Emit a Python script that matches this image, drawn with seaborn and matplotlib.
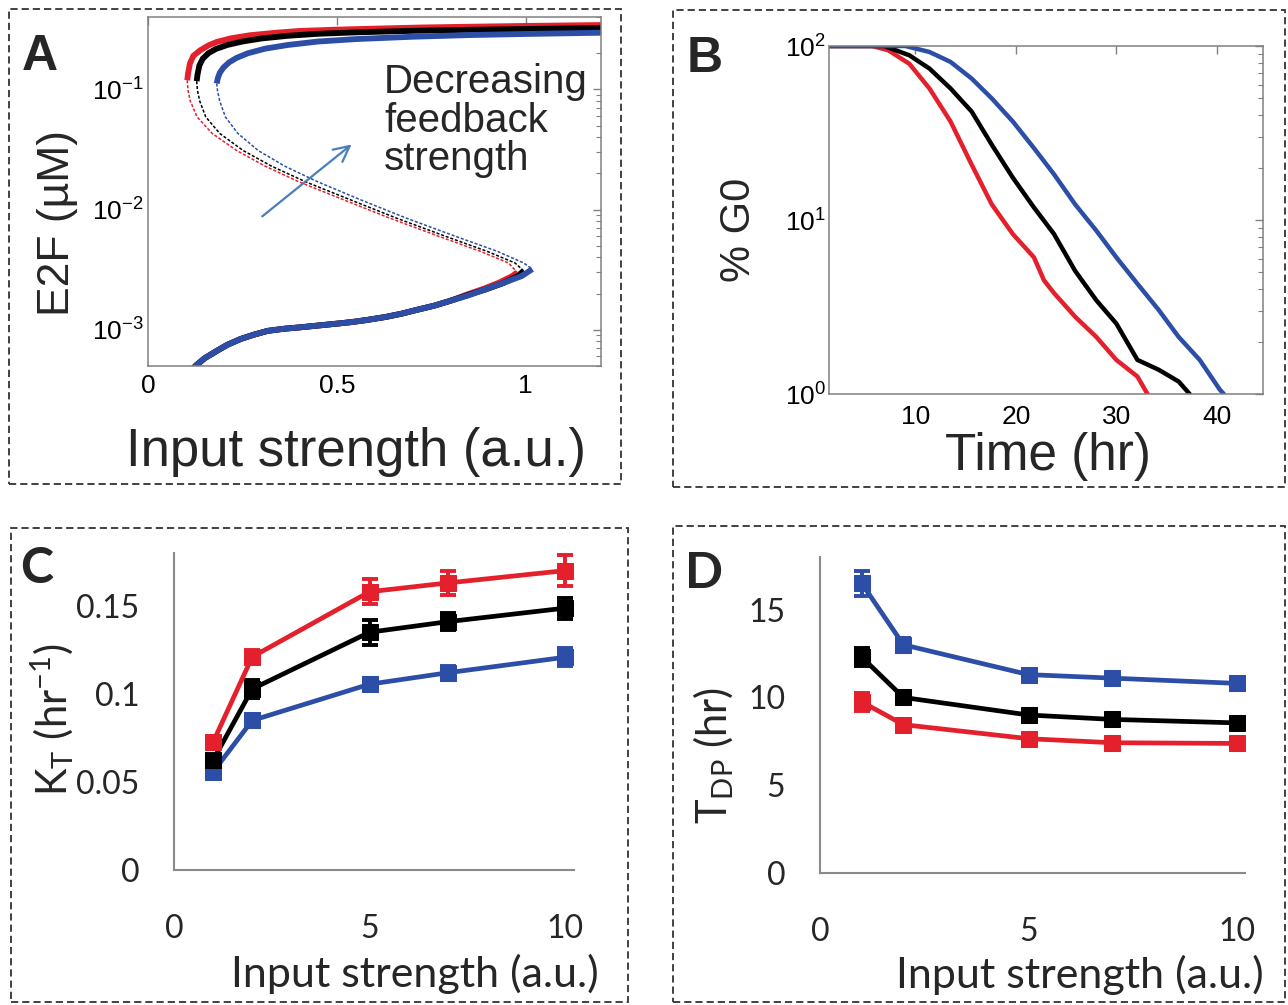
import numpy as np
import matplotlib
matplotlib.use("Agg")
import matplotlib.pyplot as plt
import seaborn as sns
from matplotlib.patches import Rectangle
from matplotlib.ticker import LogLocator, NullFormatter, FixedLocator, FixedFormatter

# -----------------------------
# Colours
# -----------------------------
RED = "#e3202b"
BLACK = "#000000"
BLUE = "#2d4ea6"
GRAY = "#808080"

# -----------------------------
# Panel A: bifurcation curves (input strength vs E2F)
# -----------------------------
a_red_up_x = [0.104, 0.106, 0.111, 0.12, 0.138, 0.16, 0.182, 0.22, 0.27, 0.34, 0.40, 0.5, 0.6, 0.72, 0.85, 1.0, 1.2]
a_red_up_y = [0.119, 0.135, 0.164, 0.19, 0.211, 0.232, 0.248, 0.266, 0.282, 0.296, 0.306, 0.314, 0.320, 0.327, 0.332, 0.337, 0.343]
a_blk_up_x = [0.129, 0.131, 0.136, 0.145, 0.16, 0.18, 0.21, 0.25, 0.3, 0.37, 0.45, 0.55, 0.7, 0.85, 1.0, 1.2]
a_blk_up_y = [0.117, 0.132, 0.158, 0.18, 0.2, 0.217, 0.234, 0.25, 0.265, 0.279, 0.29, 0.298, 0.307, 0.313, 0.318, 0.324]
a_blu_up_x = [0.182, 0.185, 0.19, 0.2, 0.215, 0.235, 0.265, 0.31, 0.37, 0.45, 0.55, 0.7, 0.85, 1.0, 1.2]
a_blu_up_y = [0.112, 0.124, 0.137, 0.152, 0.168, 0.183, 0.2, 0.218, 0.234, 0.25, 0.262, 0.274, 0.283, 0.289, 0.296]

a_mid_y = [0.098, 0.08, 0.059, 0.043, 0.031, 0.023, 0.017, 0.012, 0.0085, 0.006, 0.0045, 0.0036]
a_red_mid_x = [0.104, 0.106, 0.112, 0.13, 0.17, 0.235, 0.31, 0.40, 0.52, 0.64, 0.77, 0.88, 0.955, 0.978]
a_red_mid_y = [0.119] + a_mid_y + [0.0030]
a_blk_mid_x = [0.129, 0.131, 0.137, 0.153, 0.19, 0.252, 0.327, 0.418, 0.538, 0.658, 0.788, 0.898, 0.972, 0.995]
a_blk_mid_y = [0.117] + a_mid_y + [0.0031]
a_blu_mid_x = [0.182, 0.184, 0.19, 0.205, 0.238, 0.292, 0.362, 0.45, 0.565, 0.684, 0.814, 0.925, 0.995, 1.018]
a_blu_mid_y = [0.112] + a_mid_y + [0.0032]

a_low_x = [0.115, 0.127, 0.15, 0.184, 0.21, 0.246, 0.28, 0.317, 0.36, 0.405, 0.45, 0.494, 0.54,
           0.582, 0.63, 0.671, 0.71, 0.759, 0.80, 0.848]
a_low_y = [4.6e-4, 5.05e-4, 5.8e-4, 6.73e-4, 7.5e-4, 8.4e-4, 9.1e-4, 9.8e-4, 1.02e-3, 1.05e-3, 1.085e-3,
           1.12e-3, 1.16e-3, 1.21e-3, 1.28e-3, 1.36e-3, 1.46e-3, 1.59e-3, 1.74e-3, 1.93e-3]
a_red_low_x = a_low_x + [0.89, 0.93, 0.965, 0.978]
a_red_low_y = a_low_y[:-1] + [1.98e-3, 2.2e-3, 2.47e-3, 2.8e-3, 3.0e-3]
a_blk_low_x = a_low_x + [0.895, 0.94, 0.98, 0.995]
a_blk_low_y = a_low_y[:-1] + [1.95e-3, 2.17e-3, 2.44e-3, 2.8e-3, 3.1e-3]
a_blu_low_x = a_low_x + [0.89, 0.936, 0.99, 1.018]
a_blu_low_y = a_low_y + [2.15e-3, 2.42e-3, 2.8e-3, 3.2e-3]

# -----------------------------
# Panel B: % G0 over time
# -----------------------------
b_red_t = [1.4, 5.7, 7.3, 9.4, 11.4, 13.5, 15.6, 17.6, 19.7, 21.8, 22.8, 23.8, 25.9, 28.0, 30.0, 32.1, 33.1]
b_red_g = [100, 100, 94.5, 79, 57, 36.8, 20.8, 12.3, 8.3, 6.1, 4.5, 3.8, 2.78, 2.13, 1.57, 1.26, 1.0]
b_blk_t = [1.4, 6.9, 9.4, 11.4, 13.5, 15.6, 17.6, 19.7, 21.8, 23.8, 25.9, 28.0, 30.0, 32.1, 34.2, 36.2, 37.3]
b_blk_g = [100, 100, 88.4, 74.2, 57, 42, 27.1, 17.5, 11.8, 8.3, 5.1, 3.46, 2.54, 1.57, 1.38, 1.18, 1.0]
b_blu_t = [1.4, 9.0, 11.4, 13.5, 15.6, 17.6, 19.7, 21.8, 23.8, 25.9, 28.0, 30.0, 32.1, 34.2, 36.2, 38.3, 40.3, 40.7]
b_blu_g = [100, 100, 92.4, 81, 65, 50, 36.8, 25.9, 18.3, 12.3, 8.7, 6.1, 4.3, 3.05, 2.13, 1.57, 1.06, 1.0]

# -----------------------------
# Panels C and D: K_T and T_DP vs input strength
# -----------------------------
inputs = [1, 2, 5, 7, 10]
c_red = [0.0726, 0.121, 0.158, 0.163, 0.170]
c_red_err = [0.003, 0.004, 0.007, 0.007, 0.009]
c_blk = [0.0623, 0.1028, 0.135, 0.141, 0.1487]
c_blk_err = [0.003, 0.005, 0.007, 0.005, 0.006]
c_blu = [0.0557, 0.0849, 0.1055, 0.112, 0.1208]
c_blu_err = [0.002, 0.003, 0.003, 0.004, 0.005]

d_blu = [16.5, 13.0, 11.3, 11.1, 10.8]
d_blu_err = [0.7, 0.4, 0.3, 0.2, 0.2]
d_blk = [12.3, 10.0, 9.0, 8.75, 8.55]
d_blk_err = [0.5, 0.3, 0.2, 0.2, 0.2]
d_red = [9.75, 8.45, 7.65, 7.42, 7.38]
d_red_err = [0.5, 0.2, 0.2, 0.15, 0.15]

c_ticks = [0, 0.05, 0.1, 0.15]
c_ticklabels = ["0", "0.05", "0.1", "0.15"]
d_ticks = [0, 5, 10, 15]
x_ticks_cd = [0, 5, 10]

# -----------------------------
# Figure set-up
# -----------------------------
sns.set_style("white")
plt.rcParams["font.family"] = ["Liberation Sans", "DejaVu Sans"]
plt.rcParams["mathtext.default"] = "regular"
plt.rcParams["axes.unicode_minus"] = False

W, H = 1288, 1005
fig = plt.figure(figsize=(W / 100, H / 100), dpi=100)


def rect(l, t, r, b):
    return [l / W, 1 - b / H, (r - l) / W, (b - t) / H]


def fx(x):
    return x / W


def fy(y):
    return 1 - y / H


axA = fig.add_axes(rect(148, 17, 601, 366))
axB = fig.add_axes(rect(829, 46, 1263, 394))
axC = fig.add_axes(rect(174, 553, 574, 870))
axD = fig.add_axes(rect(820, 557, 1245, 873))

# dashed frames round each panel
for l, t, r, b in [(9, 9, 621, 484), (673, 10, 1285, 487), (11, 528, 628, 1002), (673, 526, 1285, 1002)]:
    fig.add_artist(Rectangle((fx(l), fy(b)), (r - l) / W, (b - t) / H, transform=fig.transFigure,
                             fill=False, ec="#333333", lw=1.3, ls=(0, (4, 2.2))))

# -----------------------------
# Panel A
# -----------------------------
solid_kw = dict(lw=4.2, solid_capstyle="butt", sort=False, estimator=None, legend=False)
dash_kw = dict(lw=1.1, linestyle=(0, (2, 1.2)), sort=False, estimator=None, legend=False)

for c, ux, uy, mx, my, lx, ly in [
    (RED, a_red_up_x, a_red_up_y, a_red_mid_x, a_red_mid_y, a_red_low_x, a_red_low_y),
    (BLACK, a_blk_up_x, a_blk_up_y, a_blk_mid_x, a_blk_mid_y, a_blk_low_x, a_blk_low_y),
    (BLUE, a_blu_up_x, a_blu_up_y, a_blu_mid_x, a_blu_mid_y, a_blu_low_x, a_blu_low_y),
]:
    sns.lineplot(x=ux, y=uy, color=c, ax=axA, **solid_kw)
    sns.lineplot(x=mx, y=my, color=c, ax=axA, **dash_kw)
    sns.lineplot(x=lx, y=ly, color=c, ax=axA, **solid_kw)

axA.set_yscale("log")
axA.set_xlim(0, 1.2)
axA.set_ylim(5e-4, 0.4)
axA.set_xticks([0, 0.5, 1])
axA.set_xticklabels(["0", "0.5", "1"])
axA.yaxis.set_major_locator(LogLocator(base=10, numticks=10))
axA.yaxis.set_minor_locator(LogLocator(base=10, subs=np.arange(2, 10), numticks=20))
axA.yaxis.set_minor_formatter(NullFormatter())

axA.annotate("", xy=(0.545, 0.036), xytext=(0.297, 0.0085),
             arrowprops=dict(arrowstyle="->", color="#4a7ebb", lw=1.6, mutation_scale=28))
axA.text(0.625, 0.165, "Decreasing\nfeedback\nstrength", fontsize=29, ha="left", va="top",
         linespacing=1.02)

# -----------------------------
# Panel B
# -----------------------------
for c, t, g in [(RED, b_red_t, b_red_g), (BLACK, b_blk_t, b_blk_g), (BLUE, b_blu_t, b_blu_g)]:
    sns.lineplot(x=t, y=g, color=c, lw=3.2, ax=axB, sort=False, estimator=None, legend=False)

axB.set_yscale("log")
axB.set_xlim(1.4, 44.6)
axB.set_ylim(1, 100)
axB.set_xticks([10, 20, 30, 40])
axB.yaxis.set_major_locator(LogLocator(base=10, numticks=10))
axB.yaxis.set_minor_locator(LogLocator(base=10, subs=np.arange(2, 10), numticks=20))
axB.yaxis.set_minor_formatter(NullFormatter())

for ax in (axA, axB):
    ax.set_xlabel("")
    ax.set_ylabel("")
    for s in ax.spines.values():
        s.set_color(GRAY)
        s.set_linewidth(1.1)
    ax.tick_params(which="both", direction="in", top=True, right=True, color=GRAY,
                   labelsize=19, labelcolor="black")
    ax.tick_params(which="major", length=6, width=1)
    ax.tick_params(which="minor", length=3.5, width=0.8)
axA.tick_params(axis="x", pad=6)
axA.tick_params(axis="y", pad=3)
axB.tick_params(axis="x", pad=8)
axB.tick_params(axis="y", pad=2)

# -----------------------------
# Panels C and D
# -----------------------------
line_kw = dict(marker="s", markersize=11, lw=3.4, legend=False)

for ax, series in [
    (axC, [(BLUE, c_blu, c_blu_err), (BLACK, c_blk, c_blk_err), (RED, c_red, c_red_err)]),
    (axD, [(RED, d_red, d_red_err), (BLACK, d_blk, d_blk_err), (BLUE, d_blu, d_blu_err)]),
]:
    for c, vals, err in series:
        ax.errorbar(inputs, vals, yerr=err, fmt="none", ecolor=c, elinewidth=2.8,
                    capsize=6, capthick=2.8)
        sns.lineplot(x=inputs, y=vals, color=c, markeredgecolor=c, ax=ax, **line_kw)

axC.set_xlim(0, 10.23)
axC.set_ylim(0, 0.18)
axC.yaxis.set_major_locator(FixedLocator(c_ticks))
axC.yaxis.set_major_formatter(FixedFormatter(c_ticklabels))
axD.set_xlim(0, 10.19)
axD.set_ylim(0, 18)
axD.set_yticks(d_ticks)

for ax in (axC, axD):
    ax.set_xlabel("")
    ax.set_ylabel("")
    ax.set_xticks(x_ticks_cd)
    ax.spines["top"].set_visible(False)
    ax.spines["right"].set_visible(False)
    for s in ("left", "bottom"):
        ax.spines[s].set_color("#8a8a8a")
        ax.spines[s].set_linewidth(1.5)
    ax.tick_params(direction="out", length=7, width=1.5, color="#8a8a8a", labelsize=23)
    ax.tick_params(axis="x", pad=25)
    ax.tick_params(axis="y", pad=18)
    for lab in ax.get_xticklabels() + ax.get_yticklabels():
        lab.set_fontfamily("Lato")

# -----------------------------
# Labels and panel letters
# -----------------------------
fig.text(fx(356), fy(466), "Input strength (a.u.)", fontsize=38, ha="center", va="baseline")
fig.text(fx(58), fy(223), "E2F (\u00b5M)", fontsize=32, rotation=90, ha="center", va="center")
fig.text(fx(1048), fy(470), "Time (hr)", fontsize=37, ha="center", va="baseline")
fig.text(fx(739), fy(230), "% G0", fontsize=30, rotation=90, ha="center", va="center")

fig.text(fx(415), fy(987), "Input strength (a.u.)", fontsize=31, ha="center", va="baseline", family="Lato")
fig.text(fx(1080), fy(988), "Input strength (a.u.)", fontsize=31, ha="center", va="baseline", family="Lato")
fig.text(fx(52), fy(720), "K$_\\mathregular{T}$ (hr$^\\mathregular{-1}$)", fontsize=30, rotation=90,
         ha="center", va="center", family="Lato")
fig.text(fx(714), fy(755), "T$_\\mathregular{DP}$ (hr)", fontsize=30, rotation=90,
         ha="center", va="center", family="Lato")

fig.text(fx(22), fy(70), "A", fontsize=36, weight="bold", ha="left", va="baseline")
fig.text(fx(687), fy(72), "B", fontsize=36, weight="bold", ha="left", va="baseline")
fig.text(fx(20), fy(583), "C", fontsize=36, weight="bold", ha="left", va="baseline", family="Lato")
fig.text(fx(685), fy(588), "D", fontsize=36, weight="bold", ha="left", va="baseline", family="Lato")

fig.savefig("out.png", dpi=100)
